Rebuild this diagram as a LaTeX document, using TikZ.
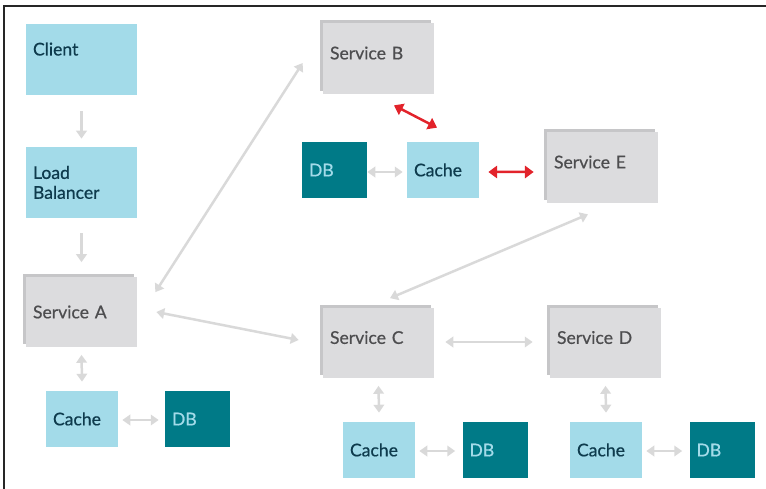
\documentclass[tikz,border=0pt]{standalone}
\usepackage{fontspec}
\setmainfont{Lato}
\newfontfamily\labelfont{Lato}[FakeBold=0.6]
\usetikzlibrary{arrows.meta,shadows}

\definecolor{cacheblue}{HTML}{A3DBE9}
\definecolor{dbteal}{HTML}{007A87}
\definecolor{srvgray}{HTML}{DCDCDE}
\definecolor{srvshade}{HTML}{C6C6C8}
\definecolor{linkgray}{HTML}{D9D9D9}
\definecolor{hotred}{HTML}{E2232B}
\definecolor{navytext}{HTML}{0E3B4D}
\definecolor{srvtext}{HTML}{4D4D4F}

\begin{document}
\begin{tikzpicture}[x=0.02cm,y=-0.02cm,
  font=\labelfont\fontsize{10}{11.3}\selectfont,
  box/.style={rectangle,inner sep=0pt,inner xsep=0.14cm,align=left,
    text height=7.2pt,text depth=#1},
  box/.default=0pt,
  front/.style={box=#1,fill=cacheblue,text=navytext,
    text width=1.94cm,minimum height=1.42cm},
  front/.default=0pt,
  service/.style={box=#1,fill=srvgray,text=srvtext,
    text width=1.94cm,minimum height=1.42cm,
    copy shadow={shadow xshift=-0.06cm,shadow yshift=0.06cm,
      fill=srvshade,draw=none}},
  service/.default=6.2pt,
  cache/.style={box,fill=cacheblue,text=navytext,
    text width=1.16cm,minimum height=1.12cm},
  db/.style={box,fill=dbteal,text=cacheblue,
    text width=1.02cm,minimum height=1.12cm},
  link/.style={draw=linkgray,line width=0.05cm,
    {Triangle[length=4.5pt,width=6pt]}-{Triangle[length=4.5pt,width=6pt]}},
  oneway/.style={draw=linkgray,line width=0.05cm,
    -{Triangle[length=4.5pt,width=6pt]}},
  hot/.style={draw=hotred,line width=0.05cm,
    {Triangle[length=5pt,width=7pt]}-{Triangle[length=5pt,width=7pt]}}]
\useasboundingbox (0,0) rectangle (766,489);
\draw[line width=0.026cm,black!85] (4,489) |- (766,6);

% entry
\node[front=11.8pt] (client) at (81.5,59.5) {Client};
\node[front=11.3pt] (lb) at (81.5,182.5) {Load\\Balancer};

% services
\node[service=0pt] (srvA) at (81.5,312) {Service A};
\node[service] (srvB) at (378.5,58.5) {Service B};
\node[service] (srvE) at (602.5,167.5) {Service E};
\node[service] (srvC) at (378.5,343) {Service C};
\node[service] (srvD) at (605.5,343) {Service D};

% caches and stores
\node[db] (dbB) at (334.5,170) {DB};
\node[cache] (cacheB) at (443,170) {Cache};
\node[cache] (cacheA) at (82,419) {Cache};
\node[db] (dbA) at (197.5,419) {DB};
\node[cache] (cacheC) at (379,450) {Cache};
\node[db] (dbC) at (495,450) {DB};
\node[cache] (cacheD) at (606,450) {Cache};
\node[db] (dbD) at (722,450) {DB};

% connectors
\draw[oneway] ([shift={(0,16)}]client.south) -- ([shift={(0,-8)}]lb.north);
\draw[oneway] ([shift={(0,15)}]lb.south) -- ([shift={(0,-14)}]srvA.north);
\draw[link] ([shift={(18,16)}]srvA.north east) -- ([shift={(-20,4.5)}]srvB.west);
\draw[link] ([shift={(19,0)}]srvA.east) -- ([shift={(-24,-3)}]srvC.west);
\draw[link] ([shift={(11.5,-9)}]srvC.north) -- ([shift={(-14.5,11)}]srvE.south);
\draw[link] ([shift={(11,-1)}]srvC.east) -- ([shift={(-17,-1)}]srvD.west);
\draw[link] ([shift={(0,2)}]dbB.east) -- ([shift={(-4,2)}]cacheB.west);
\draw[hot] ([shift={(15.5,11)}]srvB.south) -- ([shift={(-6,-14)}]cacheB.north);
\draw[hot] ([shift={(9,2)}]cacheB.east) -- ([shift={(-13,4.5)}]srvE.west);
\draw[link] ([shift={(0,7)}]srvA.south) -- ([shift={(0,-9)}]cacheA.north);
\draw[link] ([shift={(4,1)}]cacheA.east) -- ([shift={(-6,1)}]dbA.west);
\draw[link] ([shift={(0,7)}]srvC.south) -- ([shift={(0,-9)}]cacheC.north);
\draw[link] ([shift={(4,1)}]cacheC.east) -- ([shift={(-7,1)}]dbC.west);
\draw[link] ([shift={(0,7)}]srvD.south) -- ([shift={(0,-9)}]cacheD.north);
\draw[link] ([shift={(4,1)}]cacheD.east) -- ([shift={(-7,1)}]dbD.west);
\end{tikzpicture}
\end{document}
